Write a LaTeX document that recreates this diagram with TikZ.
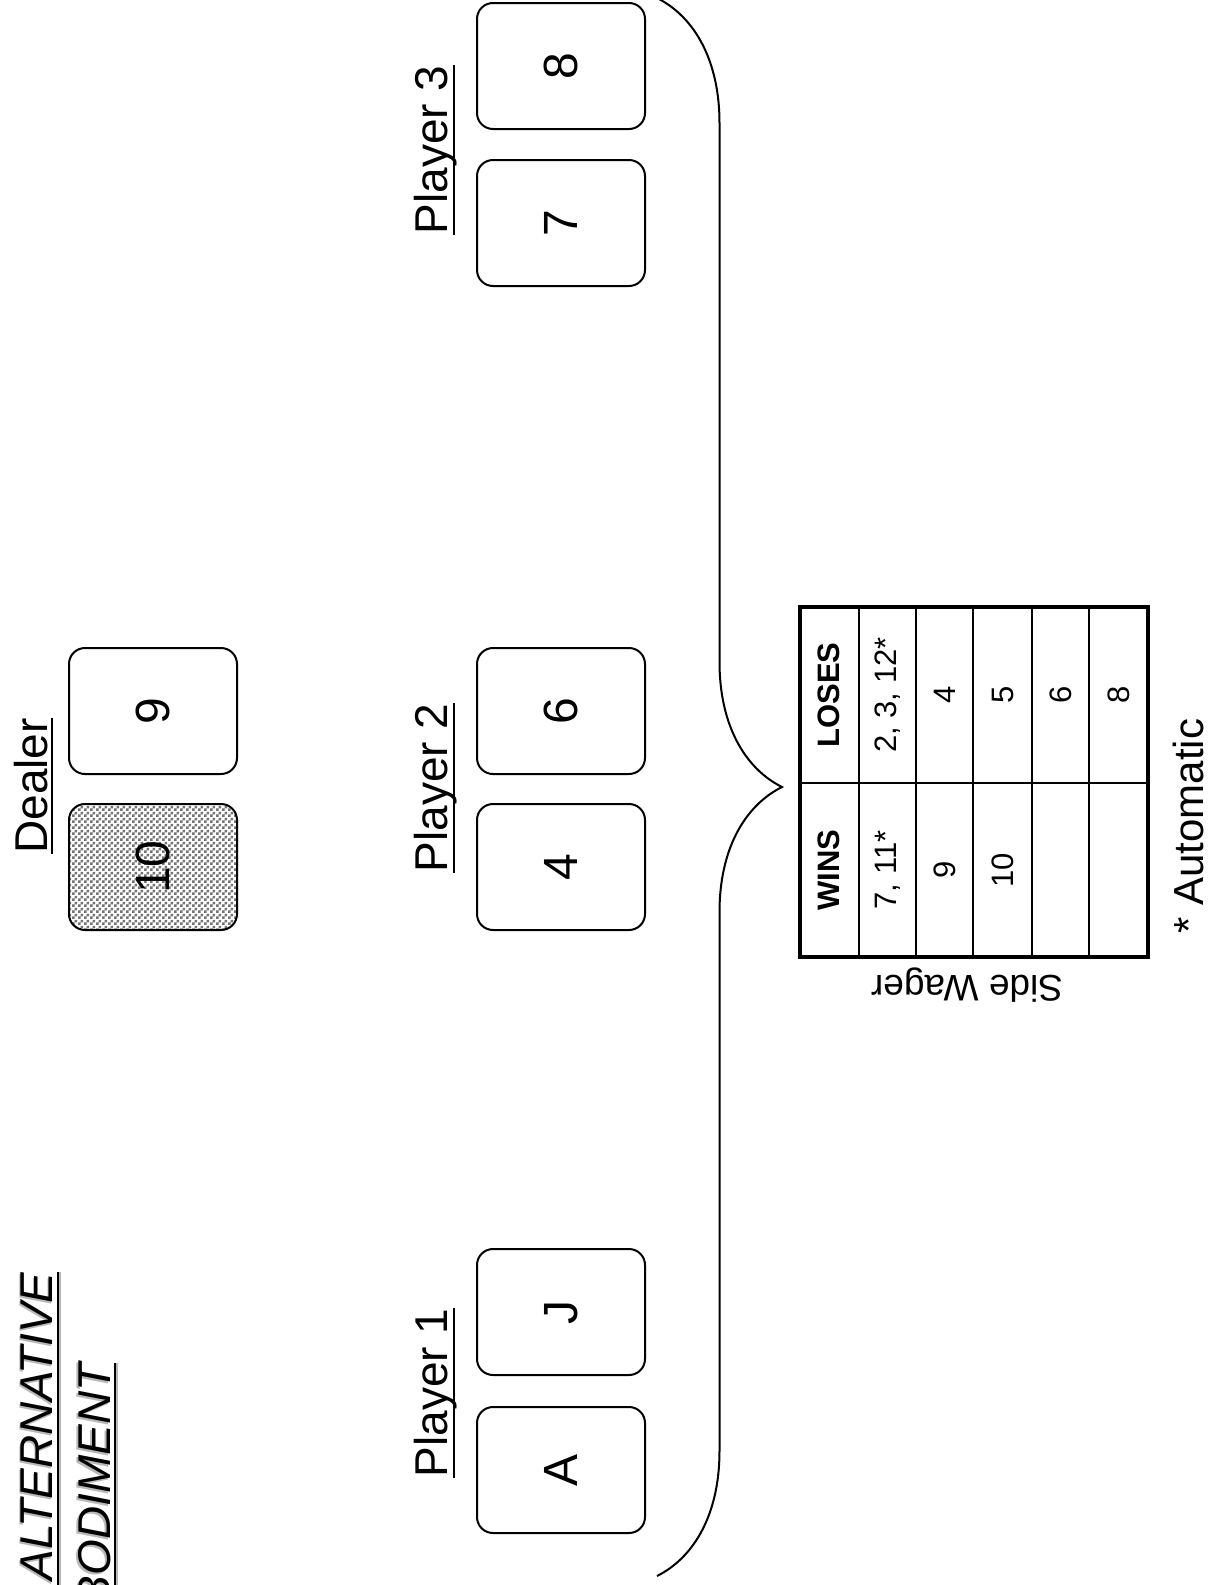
\documentclass[tikz,border=0pt]{standalone}
\usepackage{fontspec}
\setmainfont{Liberation Sans}
\usetikzlibrary{patterns.meta, decorations.pathreplacing}

\tikzdeclarepattern{
  name=finecheck,
  type=uncolored,
  bottom left={(0pt,0pt)},
  top right={(3pt,3pt)},
  tile size={(3pt,3pt)},
  code={\fill (0pt,0pt) rectangle (1.5pt,1.5pt)
              (1.5pt,1.5pt) rectangle (3pt,3pt);}
}

\begin{document}
\begin{tikzpicture}[
    x=0.5pt, y=-0.5pt,
    card/.style={rectangle, draw=black, line width=1pt, rounded corners=8pt,
                 rotate=90, minimum width=63pt, minimum height=84pt,
                 inner sep=0pt, font=\fontsize{24}{28}\selectfont},
    hidden/.style={card, pattern={finecheck}, pattern color=black!55},
    lbl/.style={rotate=90, inner sep=0pt, anchor=base,
                font=\fontsize{23}{27}\selectfont},
    uline/.style={line width=1.3pt},
    cell/.style={rotate=90, inner sep=0pt, font=\fontsize{15.5}{18}\selectfont},
    head/.style={cell, font=\bfseries\fontsize{15.5}{18}\selectfont},
    title/.style={rotate=90, inner sep=0pt, anchor=base east,
                  font=\itshape\fontsize{23}{27}\selectfont},
  ]
  \useasboundingbox (0,0) rectangle (1211,1585);
  \clip (0,0) rectangle (1211,1585);

  % title, cut by the page edge
  \node[title, text=gray!55] (t1s) at (51,1274) {ALTERNATIVE};
  \node[title] (t1) at (53,1272) {ALTERNATIVE};
  \node[title, text=gray!55] (t2s) at (108,1365) {EMBODIMENT};
  \node[title] (t2) at (110,1363) {EMBODIMENT};
  \draw[uline, gray!55] ([xshift=3.5pt]t1.base east) -- ++(0,400);
  \draw[uline] ([xshift=2.5pt]t1.base east) -- ++(0,400);
  \draw[uline, gray!55] ([xshift=3.5pt]t2.base east) -- ++(0,400);
  \draw[uline] ([xshift=2.5pt]t2.base east) -- ++(0,400);

  % dealer
  \node[lbl] (dl) at (47,786) {Dealer};
  \draw[uline] ([xshift=2.5pt]dl.base west) -- ([xshift=2.5pt]dl.base east);
  \node[card] (d9) at (153,711) {9};
  \node[hidden] (d10) at (153,867) {10};

  % players
  \node[lbl] (p1) at (447,1393) {Player 1};
  \node[lbl] (p2) at (447,788) {Player 2};
  \node[lbl] (p3) at (447,150) {Player 3};
  \foreach \p in {p1,p2,p3}
    \draw[uline] ([xshift=3.5pt]\p.base west) -- ([xshift=3.5pt]\p.base east);

  \node[card] (cA) at (561,1470) {A};
  \node[card] (cJ) at (561,1312) {J};
  \node[card] (c4) at (561,867) {4};
  \node[card] (c6) at (561,711) {6};
  \node[card] (c7) at (561,223) {7};
  \node[card] (c8) at (561,66) {8};

  % brace towards the side wager
  \coordinate (btop) at (657,-2);
  \coordinate (bbot) at (657,1576);
  \draw[decorate, decoration={brace, amplitude=62.5pt}, line width=1pt]
    (btop) -- (bbot);

  % side wager table
  \draw[line width=2pt] (800,607) rectangle (1148,957);
  \foreach \x in {859,916,973,1032,1089}
    \draw[line width=1pt] (\x,607) -- (\x,957);
  \draw[line width=1pt] (800,783) -- (1148,783);

  \node[head] (wins) at (829,870) {WINS};
  \node[head] (loses) at (829,695) {LOSES};
  \node[cell] (w1) at (888,870) {7, 11*};
  \node[cell] (l1) at (888,695) {2, 3, 12*};
  \node[cell] (w2) at (945,870) {9};
  \node[cell] (l2) at (945,695) {4};
  \node[cell] (w3) at (1003,870) {10};
  \node[cell] (l3) at (1003,695) {5};
  \node[cell] (l4) at (1061,695) {6};
  \node[cell] (l5) at (1119,695) {8};

  \node[rotate=180, inner sep=0pt, font=\fontsize{18.5}{22}\selectfont]
    (side) at (967,985) {Side Wager};
  \node[lbl, font=\fontsize{21}{25}\selectfont] (auto) at (1203,826)
    {* Automatic};
\end{tikzpicture}
\end{document}
